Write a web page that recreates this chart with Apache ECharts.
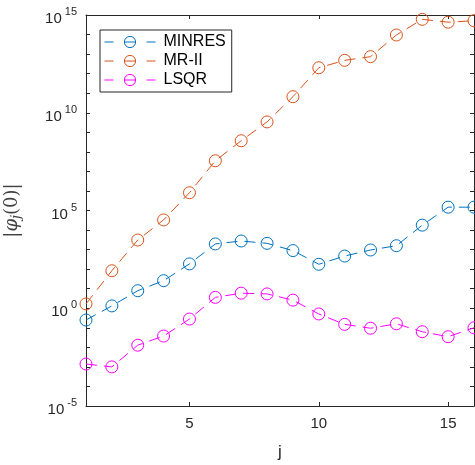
<!DOCTYPE html>
<html>
<head>
<meta charset="utf-8">
<script src="https://cdn.jsdelivr.net/npm/echarts@6/dist/echarts.min.js"></script>
<style>html,body{margin:0;padding:0;background:#fff;}#c{width:475px;height:465px;}</style>
</head>
<body>
<div id="c"></div>
<script>
var iterations = [1,2,3,4,5,6,7,8,9,10,11,12,13,14,15,16];
var minres = [0.25,1.32,7.9,25.7,186,1950,2750,2090,890,178,468,955,1580,17800,1.48e5,1.48e5];
var mr2 = [1.66,83,3090,3.3e4,8.1e5,3.5e7,3.7e8,3.4e9,6.6e10,2.0e12,4.8e12,7.4e12,9.5e13,6.0e14,4.3e14,5.1e14];
var lsqr = [1.4e-3,1.0e-3,1.29e-2,3.8e-2,0.28,3.6,5.9,5.4,2.6,0.51,0.15,0.095,0.16,0.063,0.035,0.10];
var xTicks = [5,10,15];
var seriesNames = ['MINRES','MR-II','LSQR'];
var colors = ['#0072BD','#D95319','#FF00FF'];

function pairs(v){ return iterations.map(function(x,i){ return [x, v[i]]; }); }

var axisCol = '#262626';
function mkSeries(name, vals, c){
  return {
    name: name, type: 'line', data: pairs(vals),
    symbol: 'circle', symbolSize: 12, clip: false,
    lineStyle: {color: c, width: 1, type: [11,7]},
    itemStyle: {color: 'rgba(0,0,0,0)', borderColor: c, borderWidth: 1},
    emphasis: {disabled: true},
    animation: false
  };
}

var chart = echarts.init(document.getElementById('c'), null, {renderer: 'canvas'});
chart.setOption({
  animation: false,
  backgroundColor: '#fff',
  grid: {left: 86, right: 1, top: 15, bottom: 59, containLabel: false, outerBoundsMode: 'none'},
  legend: {
    orient: 'vertical', left: 100, top: 30,
    data: seriesNames,
    itemWidth: 51, itemHeight: 14, itemGap: 3,
    padding: [4, 6, 4, 4],
    borderColor: axisCol, borderWidth: 1, backgroundColor: '#fff',
    lineStyle: {type: [9, 10.5, 12, 10.5], width: 1},
    itemStyle: {borderWidth: 1, color: 'rgba(0,0,0,0)'},
    textStyle: {fontFamily: 'Liberation Sans, Arial, sans-serif', fontSize: 16, color: '#000', padding: [0,0,0,3]}
  },
  xAxis: [{
    type: 'value', min: 1, max: 16, position: 'bottom',
    name: 'j', nameLocation: 'middle', nameGap: 38,
    nameTextStyle: {fontFamily: 'Liberation Sans, Arial, sans-serif', fontSize: 17, color: axisCol},
    axisLine: {show: true, onZero: false, lineStyle: {color: axisCol, width: 1}},
    axisTick: {show: true, inside: true, length: 4, customValues: xTicks, lineStyle: {color: axisCol}},
    axisLabel: {show: true, customValues: xTicks, margin: 10, fontFamily: 'Liberation Sans, Arial, sans-serif', fontSize: 15, color: axisCol},
    splitLine: {show: false}
  },{
    type: 'value', min: 1, max: 16, position: 'top',
    axisLine: {show: true, onZero: false, lineStyle: {color: axisCol, width: 1}},
    axisTick: {show: true, inside: true, length: 4, customValues: xTicks, lineStyle: {color: axisCol}},
    axisLabel: {show: false},
    splitLine: {show: false}
  }],
  yAxis: [{
    type: 'log', logBase: 10, min: 1e-5, max: 1e15, interval: 1, position: 'left',
    name: '{a||}{p|φ}{j|j}{a|(0)|}', nameLocation: 'middle', nameGap: 63, nameRotate: 90,
    nameTextStyle: {
      color: '#404040',
      rich: {
        a: {fontFamily: 'DejaVu Serif, serif', fontSize: 18, color: '#404040'},
        p: {fontFamily: 'DejaVu Serif, serif', fontStyle: 'italic', fontSize: 18, color: '#404040'},
        j: {fontFamily: 'DejaVu Serif, serif', fontStyle: 'italic', fontSize: 13, color: '#404040', padding: [8,0,0,0]}
      }
    },
    axisLine: {show: true, onZero: false, lineStyle: {color: axisCol, width: 1}},
    axisTick: {show: true, inside: true, length: 4, lineStyle: {color: axisCol}},
    axisLabel: {
      show: true, margin: 9, showMinLabel: true, showMaxLabel: true,
      formatter: function(v){
        var e = Math.round(Math.log(v)/Math.LN10);
        if (e % 5 !== 0) return '';
        return '{b|10}{s|' + e + '}';
      },
      rich: {
        b: {fontFamily: 'Liberation Sans, Arial, sans-serif', fontSize: 15, color: axisCol, padding: [8,0,0,0]},
        s: {fontFamily: 'Liberation Sans, Arial, sans-serif', fontSize: 11, color: axisCol, padding: [0,0,6,3]}
      }
    },
    splitLine: {show: false},
    minorTick: {show: false}
  },{
    type: 'log', logBase: 10, min: 1e-5, max: 1e15, interval: 1, position: 'right',
    axisLine: {show: true, onZero: false, lineStyle: {color: axisCol, width: 1}},
    axisTick: {show: true, inside: true, length: 4, lineStyle: {color: axisCol}},
    axisLabel: {show: false},
    splitLine: {show: false}
  }],
  series: [
    mkSeries(seriesNames[0], minres, colors[0]),
    mkSeries(seriesNames[1], mr2, colors[1]),
    mkSeries(seriesNames[2], lsqr, colors[2])
  ]
});
</script>
</body>
</html>
